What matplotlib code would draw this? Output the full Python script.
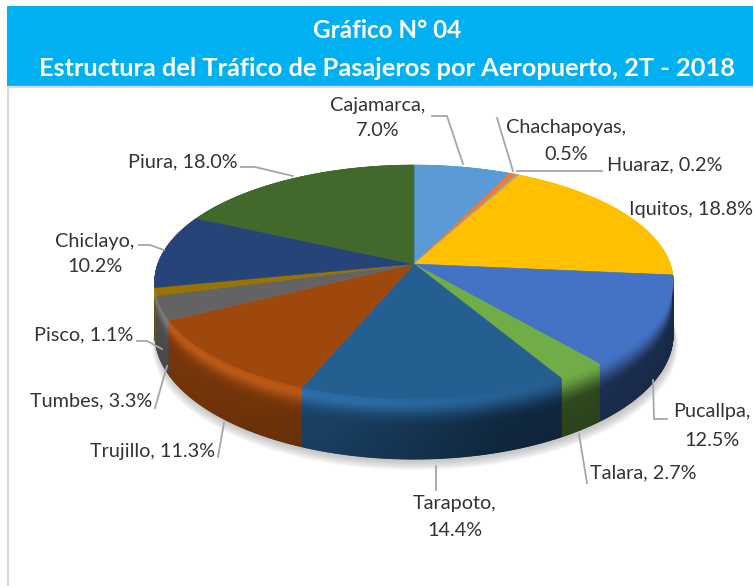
import numpy as np
import matplotlib
matplotlib.use("Agg")
import matplotlib.pyplot as plt
from matplotlib.patches import Rectangle

plt.rcParams['font.family'] = ['Lato', 'DejaVu Sans']

# slices clockwise from 12 o'clock
airports = ["Cajamarca", "Chachapoyas", "Huaraz", "Iquitos", "Pucallpa", "Talara",
            "Tarapoto", "Trujillo", "Tumbes", "Pisco", "Chiclayo", "Piura"]
shares = [7.0, 0.5, 0.2, 18.8, 12.5, 2.7, 14.4, 11.3, 3.3, 1.1, 10.2, 18.0]
colors = ["#5B9BD5", "#ED7D31", "#A5A5A5", "#FFC000", "#4472C4", "#70AD47",
          "#255E91", "#9E480E", "#636363", "#997300", "#264478", "#43682B"]

title_lines = ["Gráfico N° 04", "Estructura del Tráfico de Pasajeros por Aeropuerto, 2T - 2018"]

# pie projection, in pixels
CX, CY = 414, 264
A, B, K = 256, 114, 0.154
DEPTH = 51


def project(theta, drop=0.0):
    u, v = np.sin(theta), -np.cos(theta)
    w = 1 - K * v
    return CX + A * u / w, CY + (B * v + drop) / w


def side_colors(base, theta, t):
    rgb = np.array(matplotlib.colors.to_rgb(base))
    u = np.sin(theta)
    f = np.interp(u, [-1, -0.3, 0.3, 1], [0.82, 0.72, 0.45, 0.4])
    glow = np.interp(u, [-1, -0.5, 0.1, 0.5], [0.22, 0.22, 0.1, 0.0])
    out = np.zeros((len(t), len(theta), 4))
    out[..., 3] = 1
    for i, tt in enumerate(t):
        m = np.clip(1 - tt / 0.5, 0, 1)
        mix = m ** 2 * (3 - 2 * m)
        hump = np.exp(-((tt - 0.12) / 0.14) ** 2) * glow
        shade = (f + (1 - f) * mix) * (1 - 0.1 * tt) * (1 + hump)
        for c in range(3):
            out[i, :, c] = np.clip(rgb[c] * shade + 0.08 * hump, 0, 1)
    return out


fig = plt.figure(figsize=(7.53, 5.86), dpi=100)
ax = fig.add_axes([0, 0, 1, 1])
ax.set_xlim(0, 753)
ax.set_ylim(586, 0)
ax.axis("off")

# header band and frame
ax.add_patch(Rectangle((7, 6), 746, 80, facecolor="#00B0F0", edgecolor="none", zorder=1))
ax.plot([8, 8, 753], [586, 87, 87], color="#D9D9D9", lw=1.6, zorder=1)
ax.text(387, 31, title_lines[0], color="white", fontsize=17.5, fontweight="bold",
        ha="center", va="center", zorder=2)
ax.text(387, 69, title_lines[1], color="white", fontsize=18.3, fontweight="bold",
        ha="center", va="center", zorder=2)

edges = np.cumsum([0] + shares) / sum(shares) * 2 * np.pi

# soft shadow under the pie
ring = np.linspace(0, 2 * np.pi, 240)
for i in range(14):
    sx, sy = project(ring, DEPTH + 1)
    ax.fill((sx - CX) * (1 + 0.0011 * i) + CX + 1, sy + 0.7 * i + 1, color="#7F7F7F",
            alpha=0.035, lw=0, zorder=2)

# outer wall, back to front so the near slices overlap the far ones
spans = []
for base, a, b in zip(colors, edges[:-1], edges[1:]):
    theta = np.linspace(a, b, max(int((b - a) * 120), 4))
    spans.append((np.max(-np.cos(theta)), base, theta))
t = np.linspace(0, 1, 40)
for _, base, theta in sorted(spans, key=lambda s: s[0]):
    xt, yt = project(theta)
    xb, yb = project(theta, DEPTH)
    X = np.array([xt + (xb - xt) * tt for tt in t])
    Y = np.array([yt + (yb - yt) * tt for tt in t])
    ax.pcolormesh(X, Y, side_colors(base, theta, t), shading="gouraud", zorder=3)

# top surface
for base, a, b in zip(colors, edges[:-1], edges[1:]):
    theta = np.linspace(a, b, max(int((b - a) * 120), 4))
    x, y = project(theta)
    ax.fill(np.r_[CX, x], np.r_[CY, y], facecolor=base, edgecolor=base, lw=0.4, zorder=4)

# leader lines
leaders = [
    ([432, 447, 463], [116, 116, 164]),
    ([497, 513], [118, 171]),
    ([517, 602], [171, 171]),
    ([241, 255, 293], [167, 167, 176]),
    ([139, 150, 164], [245, 245, 250]),
    ([137, 147, 162], [341, 341, 349]),
    ([155, 167], [408, 366]),
    ([218, 224], [457, 423]),
    ([436, 436], [466, 490]),
    ([579, 587], [434, 483]),
    ([653, 654, 667], [380, 419, 419]),
]
for lx, ly in leaders:
    ax.plot(lx, ly, color="#A6A6A6", lw=1.3, zorder=5)

# data labels: airport -> (x, y of each line, alignment)
label_pos = {
    "Cajamarca": (378, [105, 130], "center"),
    "Chachapoyas": (566, [128, 155], "center"),
    "Huaraz": (607, [165], "left"),
    "Iquitos": (629, [210], "left"),
    "Pucallpa": (712, [412, 440], "center"),
    "Talara": (590, [473], "left"),
    "Tarapoto": (455, [503, 530], "center"),
    "Trujillo": (215, [451], "right"),
    "Tumbes": (152, [401], "right"),
    "Pisco": (133, [335], "right"),
    "Chiclayo": (95, [241, 266], "center"),
    "Piura": (238, [162], "right"),
}
for name, val in zip(airports, shares):
    x, ys, ha = label_pos[name]
    if len(ys) == 2:
        parts = [f"{name},", f"{val:.1f}%"]
    else:
        parts = [f"{name}, {val:.1f}%"]
    for y, s in zip(ys, parts):
        ax.text(x, y, s, color="#333333", fontsize=14.3, ha=ha, va="center", zorder=6)

fig.savefig("out.png", dpi=100)
